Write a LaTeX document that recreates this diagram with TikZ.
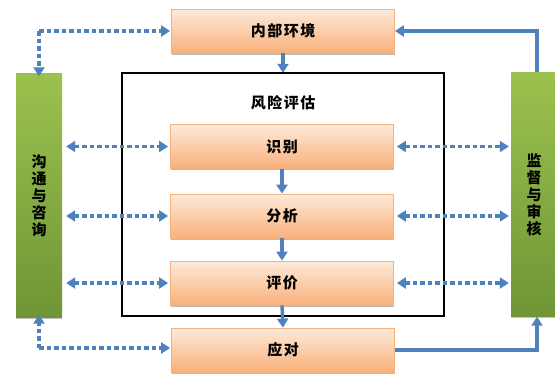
\documentclass[tikz,border=0pt]{standalone}
\usepackage{fontspec}
\newfontfamily\cjk[LetterSpace=10]{Noto Sans CJK SC}
\usetikzlibrary{arrows.meta,shadows}
\definecolor{lineblue}{HTML}{4F81BD}
\definecolor{orTop}{HTML}{FDEADA}
\definecolor{orBot}{HTML}{F9B07A}
\definecolor{orEdge}{HTML}{F5B27E}
\definecolor{grTop}{HTML}{9BC24E}
\definecolor{grBot}{HTML}{6F9536}
\tikzset{
  obox/.style={draw=orEdge, line width=0.8pt, top color=orTop, bottom color=orBot,
    minimum width=223pt, minimum height=44pt, inner sep=0pt,
    font=\cjk\bfseries\fontsize{15}{17}\selectfont,
    drop shadow={shadow xshift=0pt, shadow yshift=-1.8pt, opacity=0.45, fill=black!60}},
  gbar/.style={top color=grTop, bottom color=grBot, draw=none,
    minimum width=46pt, minimum height=244pt, inner sep=0pt, align=center,
    font=\cjk\bfseries\fontsize{15}{17}\selectfont,
    drop shadow={shadow xshift=0pt, shadow yshift=-1.5pt, opacity=0.4, fill=black!60}},
  dotline/.style={draw=lineblue, line width=3.6pt, dash pattern=on 4.5pt off 3pt},
  tip/.style={},
  dotarr/.style={dotline, -{Triangle[length=9pt,width=11pt]}},
  dotboth/.style={dotline, {Triangle[length=9pt,width=11pt]}-{Triangle[length=9pt,width=11pt]}},
  solarr/.style={draw=lineblue, line width=3.4pt, -{Triangle[length=9pt,width=11pt]}}
}
\begin{document}
\begin{tikzpicture}[x=1pt,y=-1pt]
\useasboundingbox (0,0) rectangle (555,373);
% big frame
\node[draw=black, line width=2.4pt, minimum width=322pt, minimum height=243pt, inner sep=0pt] (frame) at (283,194.5) {};
\node[font=\cjk\bfseries\fontsize{15}{17}\selectfont] (title) at (283,103) {风险评估};
% boxes
\node[obox] (nb) at (283,31) {内部环境};
\node[obox] (sb) at (282,146.5) {识别};
\node[obox] (fx) at (282,216) {分析};
\node[obox] (pj) at (282,283) {评价};
\node[obox] (yd) at (283,350) {应对};
% green bars
\node[gbar] (gt) at (39,195.5) {沟\\通\\与\\咨\\询};
\node[gbar] (jd) at (534,194.5) {监\\督\\与\\审\\核};
% coordinates
\coordinate (c1) at (39,31);
\coordinate (c2) at (39,348);
\coordinate (c3) at (537,31);
\coordinate (c4) at (537,350);
% solid vertical arrows
\draw[solarr] (nb.south -| frame.north) -- ([yshift=-1pt]frame.north);
\draw[solarr] (sb.south) -- (fx.north);
\draw[solarr] (fx.south) -- (pj.north);
\draw[solarr] (pj.south) -- (yd.north);
% solid loop right
\draw[solarr] (c3 |- jd.north) -- (c3) -- (nb.east);
\draw[solarr] (yd.east |- c4) -- (c4) -- (c4 |- jd.south);
% dotted top and bottom
\draw[dotarr] (c1) -- ([xshift=-1pt]nb.west |- c1);
\draw[dotarr] (c1) -- ([yshift=-3pt]gt.north);
\draw[dotarr] (c2) -- ([xshift=-1pt]yd.west |- c2);
\draw[dotarr] (c2) -- ([yshift=3pt]gt.south);
% dotted double arrows
\draw[dotboth] ([xshift=4pt]gt.east |- sb.west) -- ([xshift=-2pt]sb.west);
\draw[dotboth] ([xshift=4pt]gt.east |- fx.west) -- ([xshift=-2pt]fx.west);
\draw[dotboth] ([xshift=4pt]gt.east |- pj.west) -- ([xshift=-2pt]pj.west);
\draw[dotboth] ([xshift=3pt]sb.east) -- ([xshift=-2pt]jd.west |- sb.east);
\draw[dotboth] ([xshift=3pt]fx.east) -- ([xshift=-2pt]jd.west |- fx.east);
\draw[dotboth] ([xshift=3pt]pj.east) -- ([xshift=-2pt]jd.west |- pj.east);
\end{tikzpicture}
\end{document}
